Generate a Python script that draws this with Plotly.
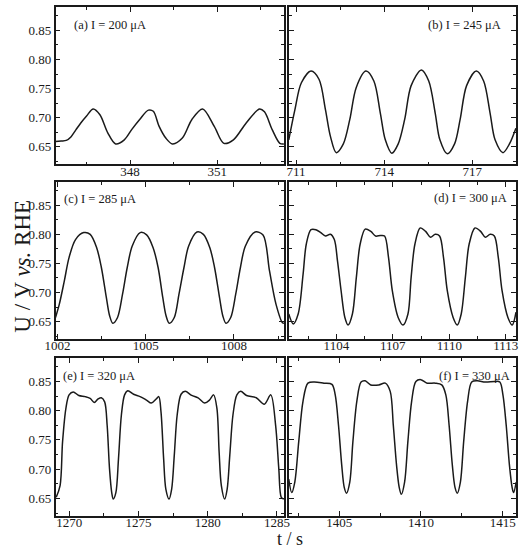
import plotly.graph_objects as go

# ---------------- data ----------------
t_a = [345.43, 345.63, 345.80, 345.96, 346.13, 346.30, 346.50, 346.73, 346.96, 347.23, 347.50, 347.80,
       348.06, 348.33, 348.63, 348.80, 349.00, 349.23, 349.46, 349.80, 350.13, 350.50, 350.90, 351.23,
       351.56, 352.00, 352.46, 352.63, 352.90, 353.16, 353.30]
u_a = [0.659, 0.660, 0.661, 0.667, 0.679, 0.691, 0.703, 0.715, 0.705, 0.674, 0.655, 0.662,
       0.680, 0.697, 0.713, 0.711, 0.685, 0.665, 0.655, 0.665, 0.697, 0.715, 0.685, 0.656,
       0.662, 0.691, 0.715, 0.710, 0.679, 0.656, 0.655]

t_b = [710.75, 710.96, 711.18, 711.51, 711.78, 712.00, 712.17, 712.37, 712.61, 712.83, 713.05, 713.38,
       713.65, 713.87, 714.04, 714.26, 714.48, 714.70, 714.92, 715.27, 715.52, 715.74, 715.90, 716.15,
       716.40, 716.59, 716.81, 717.14, 717.39, 717.61, 717.78, 718.05, 718.27, 718.49]
u_b = [0.662, 0.714, 0.760, 0.780, 0.766, 0.714, 0.668, 0.640, 0.655, 0.697, 0.752, 0.780,
       0.763, 0.708, 0.662, 0.639, 0.655, 0.697, 0.755, 0.782, 0.763, 0.708, 0.662, 0.638,
       0.655, 0.697, 0.755, 0.780, 0.763, 0.708, 0.662, 0.640, 0.655, 0.682]

t_c = [1001.93, 1002.06, 1002.23, 1002.39, 1002.61, 1002.89, 1003.11, 1003.33, 1003.49, 1003.66, 1003.77,
       1003.88, 1004.04, 1004.21, 1004.37, 1004.54, 1004.81, 1005.03, 1005.25, 1005.42, 1005.58, 1005.69,
       1005.80, 1005.97, 1006.13, 1006.30, 1006.46, 1006.74, 1006.96, 1007.18, 1007.34, 1007.51, 1007.62,
       1007.73, 1007.89, 1008.06, 1008.22, 1008.39, 1008.72, 1008.99, 1009.21, 1009.43, 1009.65, 1009.72]
u_c = [0.657, 0.680, 0.720, 0.760, 0.791, 0.803, 0.800, 0.777, 0.743, 0.691, 0.660,
       0.647, 0.657, 0.697, 0.743, 0.780, 0.803, 0.799, 0.777, 0.743, 0.691, 0.660,
       0.647, 0.657, 0.697, 0.743, 0.780, 0.804, 0.800, 0.777, 0.743, 0.691, 0.660,
       0.647, 0.657, 0.697, 0.743, 0.780, 0.804, 0.799, 0.737, 0.680, 0.648, 0.647]

t_d = [1101.47, 1101.71, 1101.97, 1102.23, 1102.40, 1102.65, 1102.91, 1103.17, 1103.42, 1103.68, 1103.89,
       1104.06, 1104.25, 1104.45, 1104.62, 1104.85, 1105.06, 1105.26, 1105.53, 1105.83, 1106.08, 1106.34,
       1106.56, 1106.77, 1106.97, 1107.28, 1107.54, 1107.80, 1107.97, 1108.17, 1108.45, 1108.74, 1109.00,
       1109.25, 1109.48, 1109.69, 1109.89, 1110.20, 1110.42, 1110.63, 1110.85, 1111.05, 1111.36, 1111.66,
       1111.91, 1112.17, 1112.39, 1112.60, 1112.80, 1113.11, 1113.34, 1113.54]
u_d = [0.663, 0.646, 0.663, 0.731, 0.783, 0.808, 0.808, 0.803, 0.797, 0.800, 0.791,
       0.754, 0.703, 0.657, 0.644, 0.663, 0.726, 0.783, 0.809, 0.805, 0.797, 0.798,
       0.797, 0.760, 0.703, 0.657, 0.644, 0.663, 0.726, 0.783, 0.811, 0.805, 0.795,
       0.800, 0.797, 0.760, 0.703, 0.657, 0.644, 0.663, 0.726, 0.783, 0.811, 0.805,
       0.795, 0.800, 0.797, 0.760, 0.703, 0.657, 0.644, 0.666]

t_e = [1269.05, 1269.33, 1269.51, 1269.75, 1269.98, 1270.28, 1270.68, 1271.15, 1271.50, 1271.80, 1272.08,
       1272.31, 1272.55, 1272.73, 1272.90, 1273.06, 1273.17, 1273.36, 1273.55, 1273.76, 1273.99, 1274.22,
       1274.64, 1275.11, 1275.57, 1275.92, 1276.27, 1276.46, 1276.62, 1276.81, 1276.97, 1277.20, 1277.39,
       1277.58, 1277.79, 1278.07, 1278.37, 1278.84, 1279.30, 1279.77, 1280.12, 1280.42, 1280.66, 1280.82,
       1280.98, 1281.22, 1281.40, 1281.59, 1281.82, 1282.10, 1282.38, 1282.80, 1283.50, 1284.08, 1284.55,
       1284.90, 1285.13, 1285.31, 1285.50]
u_e = [0.652, 0.672, 0.747, 0.804, 0.827, 0.832, 0.826, 0.824, 0.821, 0.814, 0.820,
       0.822, 0.815, 0.775, 0.701, 0.660, 0.649, 0.660, 0.718, 0.793, 0.827, 0.834,
       0.828, 0.824, 0.818, 0.813, 0.820, 0.824, 0.798, 0.718, 0.666, 0.649, 0.666,
       0.724, 0.793, 0.828, 0.833, 0.826, 0.822, 0.813, 0.818, 0.827, 0.804, 0.729,
       0.672, 0.649, 0.666, 0.724, 0.793, 0.827, 0.833, 0.826, 0.822, 0.811, 0.827,
       0.775, 0.701, 0.652, 0.649]

t_f = [1401.92, 1402.10, 1402.29, 1402.53, 1402.79, 1403.09, 1403.48, 1404.07, 1404.56, 1404.76, 1404.96,
       1405.16, 1405.31, 1405.45, 1405.65, 1405.84, 1406.08, 1406.34, 1406.59, 1406.93, 1407.42, 1407.82,
       1408.12, 1408.31, 1408.51, 1408.67, 1408.80, 1409.00, 1409.20, 1409.43, 1409.69, 1409.99, 1410.38,
       1410.87, 1411.27, 1411.52, 1411.72, 1411.92, 1412.08, 1412.22, 1412.41, 1412.61, 1412.85, 1413.10,
       1413.44, 1413.93, 1414.52, 1414.82, 1415.01, 1415.21, 1415.41, 1415.57, 1415.66, 1415.82]
u_f = [0.683, 0.660, 0.678, 0.747, 0.816, 0.847, 0.849, 0.847, 0.845, 0.827, 0.775,
       0.706, 0.669, 0.659, 0.678, 0.747, 0.816, 0.849, 0.851, 0.844, 0.844, 0.847,
       0.833, 0.775, 0.706, 0.669, 0.657, 0.678, 0.747, 0.816, 0.850, 0.853, 0.847,
       0.847, 0.844, 0.827, 0.775, 0.706, 0.669, 0.659, 0.678, 0.747, 0.816, 0.849,
       0.851, 0.849, 0.850, 0.849, 0.827, 0.775, 0.706, 0.669, 0.660, 0.678]

labels = ["(a) I = 200 μA", "(b) I = 245 μA", "(c) I = 285 μA",
          "(d) I = 300 μA", "(e) I = 320 μA", "(f) I = 330 μA"]
x_ranges = [[345.43, 353.3], [710.75, 718.5], [1001.93, 1009.7],
            [1101.47, 1113.55], [1269.0, 1285.5], [1401.92, 1415.82]]
x_tick0 = [348, 711, 1002, 1104, 1270, 1405]
x_dtick = [3, 3, 3, 3, 5, 5]
y_range = [0.62, 0.89]
y_ticks = [0.65, 0.70, 0.75, 0.80, 0.85]
y_title = "U / V <i>vs.</i> RHE"
x_title = "t / s"

series = [(t_a, u_a), (t_b, u_b), (t_c, u_c), (t_d, u_d), (t_e, u_e), (t_f, u_f)]

# ---------------- layout geometry ----------------
W, H = 528, 550
col_dom = [[46 / W, 282 / W], [287 / W, 522 / W]]
row_dom = [[1 - 164.3 / H, 1 - 7 / H], [1 - 339 / H, 1 - 182 / H], [1 - 516 / H, 1 - 358 / H]]
label_pos = [(0.072, 0.886, "left"), (0.940, 0.886, "right"),
             (0.030, 0.892, "left"), (0.970, 0.898, "right"),
             (0.025, 0.886, "left"), (0.983, 0.886, "right")]

FONT = "Liberation Serif, Times New Roman, serif"
INK = "#1a1a1a"

fig = go.Figure()
layout = dict(width=W, height=H, margin=dict(l=0, r=0, t=0, b=0),
              paper_bgcolor="white", plot_bgcolor="white", showlegend=False,
              font=dict(family=FONT, color=INK))
annotations = []

for i, (t, u) in enumerate(series):
    n = i + 1
    r, c = i // 2, i % 2
    xa = "x" if n == 1 else f"x{n}"
    ya = "y" if n == 1 else f"y{n}"
    fig.add_trace(go.Scatter(x=t, y=u, mode="lines", xaxis=xa, yaxis=ya,
                             line=dict(color=INK, width=1.5, shape="spline", smoothing=0.9),
                             hoverinfo="skip"))
    axis_common = dict(showline=True, linecolor=INK, linewidth=1.5, mirror="allticks",
                       ticks="inside", ticklen=5, tickwidth=1.2, tickcolor=INK,
                       showgrid=False, zeroline=False,
                       tickfont=dict(family=FONT, size=13, color=INK))
    layout[f"xaxis{'' if n == 1 else n}"] = dict(
        axis_common, domain=col_dom[c], anchor=ya, range=x_ranges[i],
        tickmode="linear", tick0=x_tick0[i], dtick=x_dtick[i],
        minor=dict(ticks="inside", ticklen=3, tickwidth=1, tickcolor=INK,
                   tick0=x_tick0[i] - x_dtick[i] / 2, dtick=x_dtick[i] / 2),
        ticklabelstandoff=-6)
    layout[f"yaxis{'' if n == 1 else n}"] = dict(
        axis_common, domain=row_dom[r], anchor=xa, range=y_range,
        tickmode="array", tickvals=y_ticks, ticktext=[f"{v:.2f}" for v in y_ticks],
        showticklabels=(c == 0),
        minor=dict(ticks="inside", ticklen=3, tickwidth=1, tickcolor=INK,
                   tick0=0.625, dtick=0.05))
    lx, ly, anc = label_pos[i]
    annotations.append(dict(text=labels[i], xref=f"{xa} domain", yref=f"{ya} domain",
                            x=lx, y=ly, xanchor=anc, yanchor="middle", showarrow=False,
                            font=dict(family=FONT, size=12.5, color=INK)))

annotations.append(dict(text=y_title, xref="paper", yref="paper", x=11 / W, y=1 - 266 / H,
                        xanchor="center", yanchor="middle", textangle=-90, showarrow=False,
                        font=dict(family=FONT, size=23, color=INK)))
annotations.append(dict(text=x_title, xref="paper", yref="paper", x=288 / W, y=1 - 539 / H,
                        xanchor="center", yanchor="middle", showarrow=False,
                        font=dict(family=FONT, size=18, color=INK)))
layout["annotations"] = annotations
fig.update_layout(**layout)
fig.write_html("out.html")
